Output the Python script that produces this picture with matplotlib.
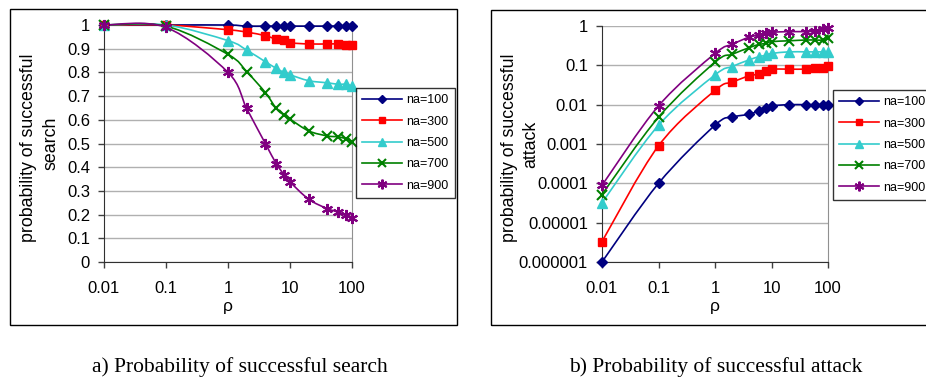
import matplotlib
matplotlib.use('Agg')
import matplotlib.pyplot as plt
import numpy as np
from matplotlib.path import Path
from matplotlib.patches import PathPatch, Rectangle
from matplotlib.lines import Line2D

rho = [0.01, 0.1, 1, 2, 4, 6, 8, 10, 20, 40, 60, 80, 100]
labels = ['na=100', 'na=300', 'na=500', 'na=700', 'na=900']

search = [
    [1.0, 1.0, 1.0, 0.995, 0.995, 0.995, 0.995, 0.995, 0.995, 0.995, 0.995, 0.995, 0.995],
    [1.0, 1.0, 0.98, 0.97, 0.955, 0.94, 0.935, 0.925, 0.92, 0.92, 0.92, 0.915, 0.915],
    [1.0, 1.0, 0.934, 0.894, 0.845, 0.817, 0.80, 0.79, 0.765, 0.756, 0.75, 0.75, 0.742],
    [1.0, 0.995, 0.876, 0.803, 0.715, 0.648, 0.62, 0.603, 0.553, 0.532, 0.528, 0.52, 0.507],
    [1.0, 0.99, 0.80, 0.648, 0.50, 0.415, 0.369, 0.338, 0.265, 0.225, 0.211, 0.197, 0.187],
]
attack = [
    [1e-6, 1e-4, 0.003, 0.0048, 0.0057, 0.007, 0.0081, 0.0093, 0.01, 0.01, 0.01, 0.01, 0.01],
    [3.3e-6, 0.0009, 0.023, 0.037, 0.054, 0.06, 0.073, 0.08, 0.08, 0.08, 0.085, 0.088, 0.094],
    [3.2e-5, 0.003, 0.057, 0.093, 0.137, 0.166, 0.18, 0.2, 0.22, 0.22, 0.22, 0.22, 0.22],
    [5.2e-5, 0.0048, 0.12, 0.19, 0.28, 0.34, 0.36, 0.4, 0.42, 0.44, 0.44, 0.44, 0.49],
    [8.9e-5, 0.0093, 0.2, 0.34, 0.52, 0.59, 0.65, 0.69, 0.72, 0.72, 0.75, 0.82, 0.87],
]

colors = ['#000080', '#FF0000', '#33CCCC', '#008000', '#800080']
markers = ['D', 's', '^', 'x', (6, 2, 0)]
msizes = [5.5, 6, 7, 7, 8]

plt.rcParams['font.family'] = 'Liberation Sans'


def smooth(ax, x, y, color, logy):
    # Excel style smoothed line: bezier segments built in log space
    u = np.log10(x)
    v = np.log10(y) if logy else np.array(y, float)
    pts = np.column_stack([u, v])
    n = len(pts)
    verts = [pts[0]]
    codes = [Path.MOVETO]
    for i in range(n - 1):
        p0 = pts[max(i - 1, 0)]
        p1 = pts[i]
        p2 = pts[i + 1]
        p3 = pts[min(i + 2, n - 1)]
        c1 = p1 + (p2 - p0) / 6.0
        c2 = p2 - (p3 - p1) / 6.0
        verts += [c1, c2, p2]
        codes += [Path.CURVE4] * 3
    verts = np.array(verts)
    vx = 10 ** verts[:, 0]
    vy = 10 ** verts[:, 1] if logy else verts[:, 1]
    path = Path(np.column_stack([vx, vy]), codes)
    ax.add_patch(PathPatch(path, facecolor='none', edgecolor=color, lw=1.2,
                           clip_on=False, zorder=3))


fig = plt.figure(figsize=(9.26, 3.8), dpi=100)

# panel frames
fig.add_artist(Rectangle((10 / 926, 1 - 325 / 380), 447 / 926, 316 / 380,
                         transform=fig.transFigure, fill=False, ec='black', lw=1))
fig.add_artist(Rectangle((491 / 926, 1 - 325 / 380), 440 / 926, 315 / 380,
                         transform=fig.transFigure, fill=False, ec='black', lw=1))

ax1 = fig.add_axes([104 / 926, 1 - 262 / 380, 248 / 926, 237 / 380])
ax2 = fig.add_axes([602 / 926, 1 - 262 / 380, 226 / 926, 236 / 380])

for ax, data, logy in [(ax1, search, False), (ax2, attack, True)]:
    ax.set_xscale('log')
    if logy:
        ax.set_yscale('log')
    for i in range(5):
        smooth(ax, rho, data[i], colors[i], logy)
        mk = markers[i]
        ax.plot(rho, data[i], linestyle='none', marker=mk, color=colors[i],
                ms=msizes[i], mew=1.5 if mk in ('x', (6, 2, 0)) else 1,
                clip_on=False, zorder=4)
    ax.set_xlim(0.01, 100)
    ax.set_xticks([0.01, 0.1, 1, 10, 100])
    ax.set_xticklabels(['0.01', '0.1', '1', '10', '100'])
    ax.xaxis.set_minor_locator(matplotlib.ticker.NullLocator())
    ax.yaxis.set_minor_locator(matplotlib.ticker.NullLocator())
    ax.grid(axis='y', color='#B0B0B0', lw=1)
    ax.set_axisbelow(True)
    ax.tick_params(labelsize=12, length=4, width=1, color='#404040')
    ax.tick_params(axis='y', pad=6)
    ax.tick_params(axis='x', pad=10)
    ax.spines['left'].set_color('#303030')
    ax.spines['bottom'].set_color('#303030')
    ax.spines['top'].set_visible(False)
    ax.spines['right'].set_color('#909090')
    ax.set_xlabel('ρ', fontsize=12.5, labelpad=2)

ax1.set_ylim(0, 1)
ax1.set_yticks(np.arange(0, 1.01, 0.1))
ax1.set_yticklabels(['0', '0.1', '0.2', '0.3', '0.4', '0.5', '0.6', '0.7', '0.8', '0.9', '1'])

ax2.set_ylim(1e-6, 1)
ax2.set_yticks([1e-6, 1e-5, 1e-4, 1e-3, 1e-2, 1e-1, 1])
ax2.set_yticklabels(['0.000001', '0.00001', '0.0001', '0.001', '0.01', '0.1', '1'])

# two-line y labels, one text per line
for ax, second, x1, x2 in [(ax1, 'search', -0.306, -0.214), (ax2, 'attack', -0.411, -0.314)]:
    ax.text(x1, 0.483, 'probability of successful', transform=ax.transAxes,
            rotation=90, ha='center', va='center', fontsize=12.8)
    ax.text(x2, 0.50, second, transform=ax.transAxes,
            rotation=90, ha='center', va='center', fontsize=12.8)

handles = [Line2D([], [], color=colors[i], marker=markers[i], ms=msizes[i] - 1,
                  mew=1.5 if markers[i] in ('x', (6, 2, 0)) else 1, lw=1.2)
           for i in range(5)]
for anchor in [(356 / 926, 1 - 88 / 380), (833 / 926, 1 - 90 / 380)]:
    leg = fig.legend(handles, labels, loc='upper left', bbox_to_anchor=anchor,
                     fontsize=9, frameon=True, fancybox=False, handlelength=3.2,
                     borderpad=0.5, labelspacing=0.75, handletextpad=0.3,
                     borderaxespad=0)
    leg.get_frame().set_edgecolor('black')
    leg.get_frame().set_linewidth(1)

fig.text(240 / 926, 1 - 367 / 380, 'a) Probability of successful search',
         ha='center', va='center', fontsize=15.5, family='Liberation Serif')
fig.text(716 / 926, 1 - 367 / 380, 'b) Probability of successful attack',
         ha='center', va='center', fontsize=15.5, family='Liberation Serif')

fig.savefig('out.png', dpi=100)
